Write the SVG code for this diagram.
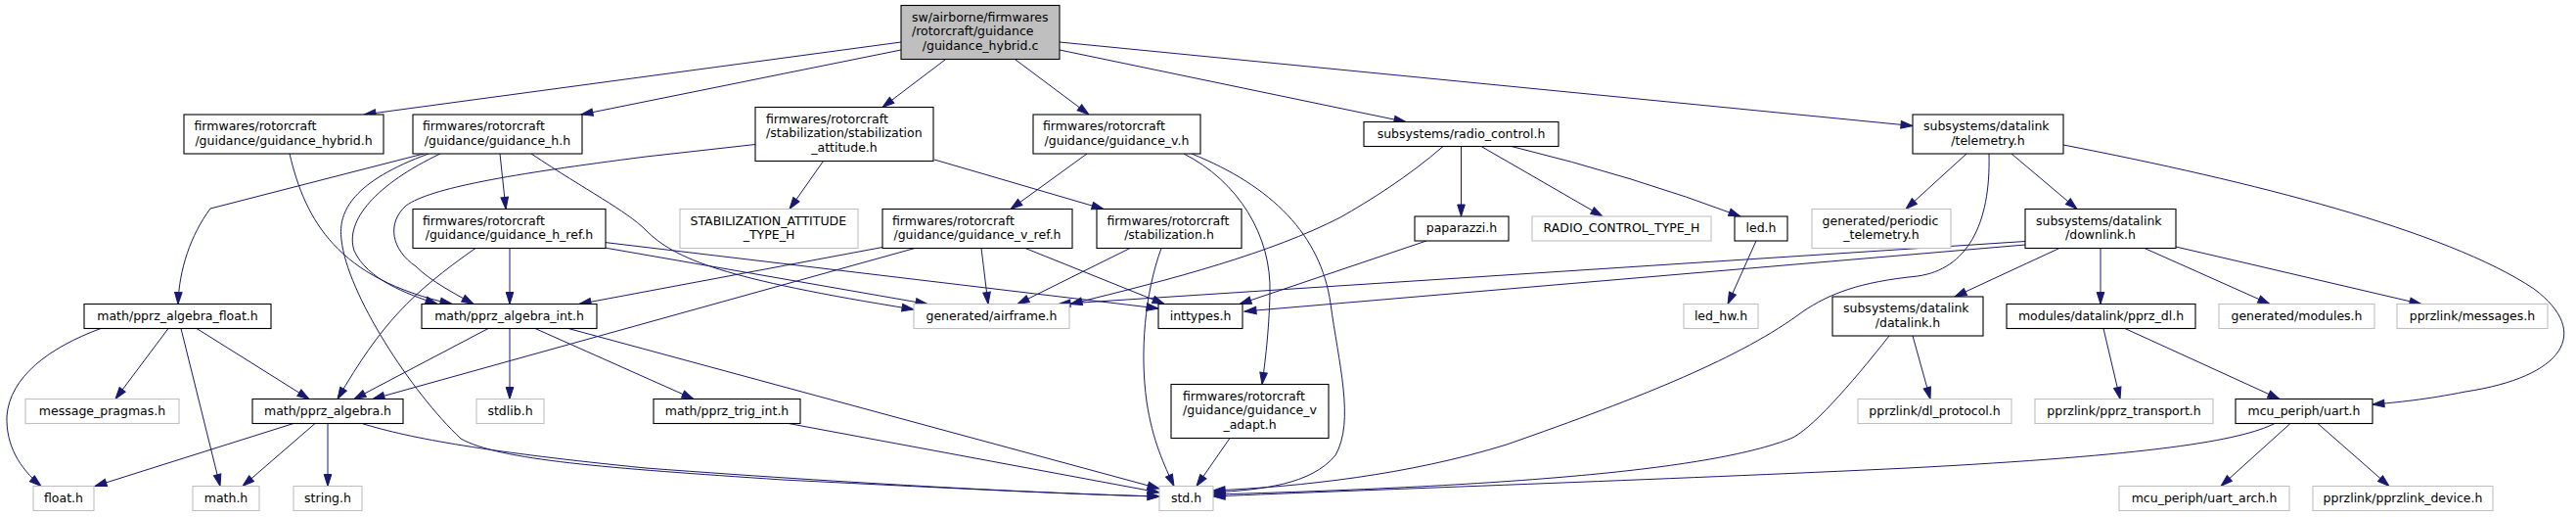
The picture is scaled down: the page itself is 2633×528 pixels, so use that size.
<svg xmlns="http://www.w3.org/2000/svg" width="2633" height="528" viewBox="0 0 2633 528">
<style>
text{font-family:"DejaVu Sans","Liberation Sans",sans-serif;font-size:12.5px;fill:#000}
.c{text-anchor:middle}
.n rect{fill:#fff;stroke:#000;stroke-width:1.1}
.g rect{fill:#fff;stroke:#bfbfbf;stroke-width:1.1}
.r rect{fill:#bfbfbf;stroke:#000;stroke-width:1.1}
#edges path{fill:none;stroke:#191970;stroke-width:1;marker-end:url(#a)}
</style>
<defs>
<marker id="a" markerUnits="userSpaceOnUse" markerWidth="14" markerHeight="11" refX="12" refY="4.5" orient="auto" overflow="visible">
<path d="M0,0.7 L12,4.5 L0,8.3 z" fill="#191970" stroke="#191970" stroke-width="1"/>
</marker>
</defs>
<rect width="2633" height="528" fill="#fff"/>
<g id="edges">
<path d="M921,43 L372,117"/>
<path d="M921,51 L594,117"/>
<path d="M966,61 L902,109.5"/>
<path d="M1038,61 L1113,117"/>
<path d="M1083,51 L1437,124.5"/>
<path d="M1083,43 L1955,128.5"/>
<path d="M296,157 C312,225 345,285 462,310.5"/>
<path d="M433,157 L215,213 C195,240 183,275 182,310.5"/>
<path d="M450,157 C385,188 352,225 362,256 C375,285 415,300 447,310.5"/>
<path d="M438,157 C362,185 345,215 349,245 C355,300 420,400 471,448 C510,470 620,478 800,490 C1000,500 1100,505 1185,507"/>
<path d="M511,157 L517,213.5"/>
<path d="M543,157 C600,195 640,215 660,235 C690,265 740,285 934,316"/>
<path d="M618,253 L948,310.5"/>
<path d="M618,247.5 L1184,315"/>
<path d="M521,253.5 L521,310.5"/>
<path d="M486,253.5 C420,300 390,330 345,407.5"/>
<path d="M772,147.5 L660,160 C520,178 440,192 415,210 C395,228 400,255 425,272 C440,287 465,300 484,310.5"/>
<path d="M841.5,164.5 L807,213.5"/>
<path d="M955,163 L1128,213.5"/>
<path d="M1111,157 L1033,213.5"/>
<path d="M1210,157 C1265,185 1300,240 1298,300 C1297,340 1293,370 1290,392.5"/>
<path d="M1218,157 C1300,190 1350,240 1360,310 C1368,370 1385,430 1365,465 C1340,495 1290,500 1240,503"/>
<path d="M1003,253.5 L1010,310.5"/>
<path d="M1048,253.5 L1190,310.5"/>
<path d="M902,252.5 L592,310.5"/>
<path d="M935,253.5 L381,407.5"/>
<path d="M1155,253.5 L1040,310.5"/>
<path d="M1187,253.5 C1170,300 1165,360 1172,410 C1178,450 1190,475 1200,496.5"/>
<path d="M1493.5,149.5 L1493.5,221"/>
<path d="M1514,149.5 L1638,221"/>
<path d="M1545,149.5 Q1670,180 1779,221"/>
<path d="M1475,149.5 C1440,180 1400,205 1370,222 C1300,258 1200,285 1094,310.5"/>
<path d="M1458,246 L1267,310.5"/>
<path d="M1795,246 L1766,310.5"/>
<path d="M2010,157 L1948,213.5"/>
<path d="M2056,157 L2123,213.5"/>
<path d="M2033,157 C2035,230 2010,275 1960,282 C1900,288 1870,300 1843,318 C1780,365 1680,405 1540,454 C1440,485 1330,497 1240,501"/>
<path d="M2109,148 C2300,185 2500,235 2590,295 C2650,340 2620,385 2520,400 C2480,408 2450,411 2425,413"/>
<path d="M2105,253.5 L1998,303"/>
<path d="M2147,253.5 L2147,310.5"/>
<path d="M2192,253.5 L2320,310.5"/>
<path d="M2224,252 L2475,310.5"/>
<path d="M2070,246.5 L1082,310.5"/>
<path d="M2070,250 L1272,318"/>
<path d="M1955,343 L1973,407.5"/>
<path d="M1931,343 C1890,395 1850,440 1830,448 C1760,475 1600,495 1240,505"/>
<path d="M2150,335.5 L2167,407.5"/>
<path d="M2172,335.5 L2330,407.5"/>
<path d="M2341,432.5 L2270,496.5"/>
<path d="M2369,432.5 L2442,496.5"/>
<path d="M2325,432.5 C2290,450 2200,465 1950,478 C1700,490 1400,500 1240,507"/>
<path d="M103,335.5 C50,355 10,385 7,425 C6,455 20,478 42,496.5"/>
<path d="M172,335.5 L118,407.5"/>
<path d="M185,335.5 L225,496.5"/>
<path d="M201,335.5 L316,407.5"/>
<path d="M300,432.5 L97,496.5"/>
<path d="M322,432.5 L248,496.5"/>
<path d="M335,432.5 L335,496.5"/>
<path d="M370,432.5 C420,448 500,462 660,478 C900,496 1100,505 1185,507"/>
<path d="M499,335.5 L362,407.5"/>
<path d="M521,335.5 L521,407.5"/>
<path d="M547,335.5 L709,407.5"/>
<path d="M581,335.5 L1185,499"/>
<path d="M806,432.5 L1185,503"/>
<path d="M1257,447.5 L1223,496.5"/>
</g>
<g id="n_root" class="r"><rect x="921" y="5.5" width="162" height="55"/><text x="932" y="21.5">sw/airborne/firmwares</text><text x="932" y="36.2">/rotorcraft/guidance</text><text class="c" x="1002" y="50.9">/guidance_hybrid.c</text></g>
<g id="n_guidance_hybrid" class="n"><rect x="188" y="117" width="204" height="40"/><text x="198.5" y="133">firmwares/rotorcraft</text><text class="c" x="290" y="147.7">/guidance/guidance_hybrid.h</text></g>
<g id="n_guidance_h" class="n"><rect x="422" y="117" width="173" height="40"/><text x="432" y="133">firmwares/rotorcraft</text><text class="c" x="508.5" y="147.7">/guidance/guidance_h.h</text></g>
<g id="n_stab_att" class="n"><rect x="772" y="109.5" width="182" height="55"/><text x="783" y="125.5">firmwares/rotorcraft</text><text x="783" y="140.2">/stabilization/stabilization</text><text class="c" x="863" y="154.9">_attitude.h</text></g>
<g id="n_guidance_v" class="n"><rect x="1056" y="117" width="171" height="40"/><text x="1066" y="133">firmwares/rotorcraft</text><text class="c" x="1141.5" y="147.7">/guidance/guidance_v.h</text></g>
<g id="n_radio_control" class="n"><rect x="1394" y="124.5" width="199" height="25"/><text class="c" x="1493.5" y="140.8">subsystems/radio_control.h</text></g>
<g id="n_telemetry" class="n"><rect x="1955" y="117" width="154" height="40"/><text x="1966" y="133">subsystems/datalink</text><text class="c" x="2032" y="147.7">/telemetry.h</text></g>
<g id="n_guidance_h_ref" class="n"><rect x="422" y="213.5" width="197" height="40"/><text x="432" y="229.5">firmwares/rotorcraft</text><text class="c" x="520.5" y="244.2">/guidance/guidance_h_ref.h</text></g>
<g id="n_stab_att_type" class="g"><rect x="695" y="213.5" width="182" height="40"/><text x="705.5" y="229.5">STABILIZATION_ATTITUDE</text><text class="c" x="786" y="244.2">_TYPE_H</text></g>
<g id="n_guidance_v_ref" class="n"><rect x="902" y="213.5" width="194" height="40"/><text x="912" y="229.5">firmwares/rotorcraft</text><text class="c" x="999" y="244.2">/guidance/guidance_v_ref.h</text></g>
<g id="n_stabilization" class="n"><rect x="1121" y="213.5" width="148" height="40"/><text x="1131.5" y="229.5">firmwares/rotorcraft</text><text class="c" x="1195" y="244.2">/stabilization.h</text></g>
<g id="n_paparazzi" class="n"><rect x="1446" y="221" width="96" height="25"/><text class="c" x="1494" y="237.3">paparazzi.h</text></g>
<g id="n_rc_type" class="g"><rect x="1566" y="221" width="183" height="25"/><text class="c" x="1657.5" y="237.3">RADIO_CONTROL_TYPE_H</text></g>
<g id="n_led" class="n"><rect x="1773" y="221" width="54" height="25"/><text class="c" x="1800" y="237.3">led.h</text></g>
<g id="n_periodic_telemetry" class="g"><rect x="1852" y="213.5" width="142" height="40"/><text x="1862.5" y="229.5">generated/periodic</text><text class="c" x="1923" y="244.2">_telemetry.h</text></g>
<g id="n_downlink" class="n"><rect x="2070" y="213.5" width="154" height="40"/><text x="2081" y="229.5">subsystems/datalink</text><text class="c" x="2147" y="244.2">/downlink.h</text></g>
<g id="n_algebra_float" class="n"><rect x="86" y="310.5" width="191" height="25"/><text class="c" x="181.5" y="326.8">math/pprz_algebra_float.h</text></g>
<g id="n_algebra_int" class="n"><rect x="431" y="310.5" width="179" height="25"/><text class="c" x="520.5" y="326.8">math/pprz_algebra_int.h</text></g>
<g id="n_airframe" class="g"><rect x="934" y="310.5" width="159" height="25"/><text class="c" x="1013.5" y="326.8">generated/airframe.h</text></g>
<g id="n_inttypes" class="n"><rect x="1184" y="310.5" width="86" height="25"/><text class="c" x="1227" y="326.8">inttypes.h</text></g>
<g id="n_led_hw" class="g"><rect x="1721" y="310.5" width="76" height="25"/><text class="c" x="1759" y="326.8">led_hw.h</text></g>
<g id="n_datalink" class="n"><rect x="1873" y="303" width="154" height="40"/><text x="1884" y="319">subsystems/datalink</text><text class="c" x="1950" y="333.7">/datalink.h</text></g>
<g id="n_pprz_dl" class="n"><rect x="2051" y="310.5" width="193" height="25"/><text class="c" x="2147.5" y="326.8">modules/datalink/pprz_dl.h</text></g>
<g id="n_modules" class="g"><rect x="2268" y="310.5" width="159" height="25"/><text class="c" x="2347.5" y="326.8">generated/modules.h</text></g>
<g id="n_messages" class="g"><rect x="2450" y="310.5" width="154" height="25"/><text class="c" x="2527" y="326.8">pprzlink/messages.h</text></g>
<g id="n_message_pragmas" class="g"><rect x="26" y="407.5" width="157" height="25"/><text class="c" x="104.5" y="423.8">message_pragmas.h</text></g>
<g id="n_algebra" class="n"><rect x="258" y="407.5" width="154" height="25"/><text class="c" x="335" y="423.8">math/pprz_algebra.h</text></g>
<g id="n_stdlib" class="g"><rect x="487" y="407.5" width="69" height="25"/><text class="c" x="521.5" y="423.8">stdlib.h</text></g>
<g id="n_trig_int" class="n"><rect x="668" y="407.5" width="150" height="25"/><text class="c" x="743" y="423.8">math/pprz_trig_int.h</text></g>
<g id="n_guidance_v_adapt" class="n"><rect x="1197" y="392.5" width="161" height="55"/><text x="1209" y="408.5">firmwares/rotorcraft</text><text x="1209" y="423.2">/guidance/guidance_v</text><text class="c" x="1277.5" y="437.9">_adapt.h</text></g>
<g id="n_dl_protocol" class="g"><rect x="1899" y="407.5" width="157" height="25"/><text class="c" x="1977.5" y="423.8">pprzlink/dl_protocol.h</text></g>
<g id="n_pprz_transport" class="g"><rect x="2080" y="407.5" width="182" height="25"/><text class="c" x="2171" y="423.8">pprzlink/pprz_transport.h</text></g>
<g id="n_uart" class="n"><rect x="2285" y="407.5" width="140" height="25"/><text class="c" x="2355" y="423.8">mcu_periph/uart.h</text></g>
<g id="n_float" class="g"><rect x="34" y="496.5" width="62" height="25"/><text class="c" x="65" y="512.8">float.h</text></g>
<g id="n_math" class="g"><rect x="197" y="496.5" width="68" height="25"/><text class="c" x="231" y="512.8">math.h</text></g>
<g id="n_string" class="g"><rect x="300" y="496.5" width="70" height="25"/><text class="c" x="335" y="512.8">string.h</text></g>
<g id="n_std" class="g"><rect x="1185" y="496.5" width="55" height="25"/><text class="c" x="1212.5" y="512.8">std.h</text></g>
<g id="n_uart_arch" class="g"><rect x="2166" y="496.5" width="174" height="25"/><text class="c" x="2253" y="512.8">mcu_periph/uart_arch.h</text></g>
<g id="n_pprzlink_device" class="g"><rect x="2364" y="496.5" width="184" height="25"/><text class="c" x="2456" y="512.8">pprzlink/pprzlink_device.h</text></g>
</svg>
